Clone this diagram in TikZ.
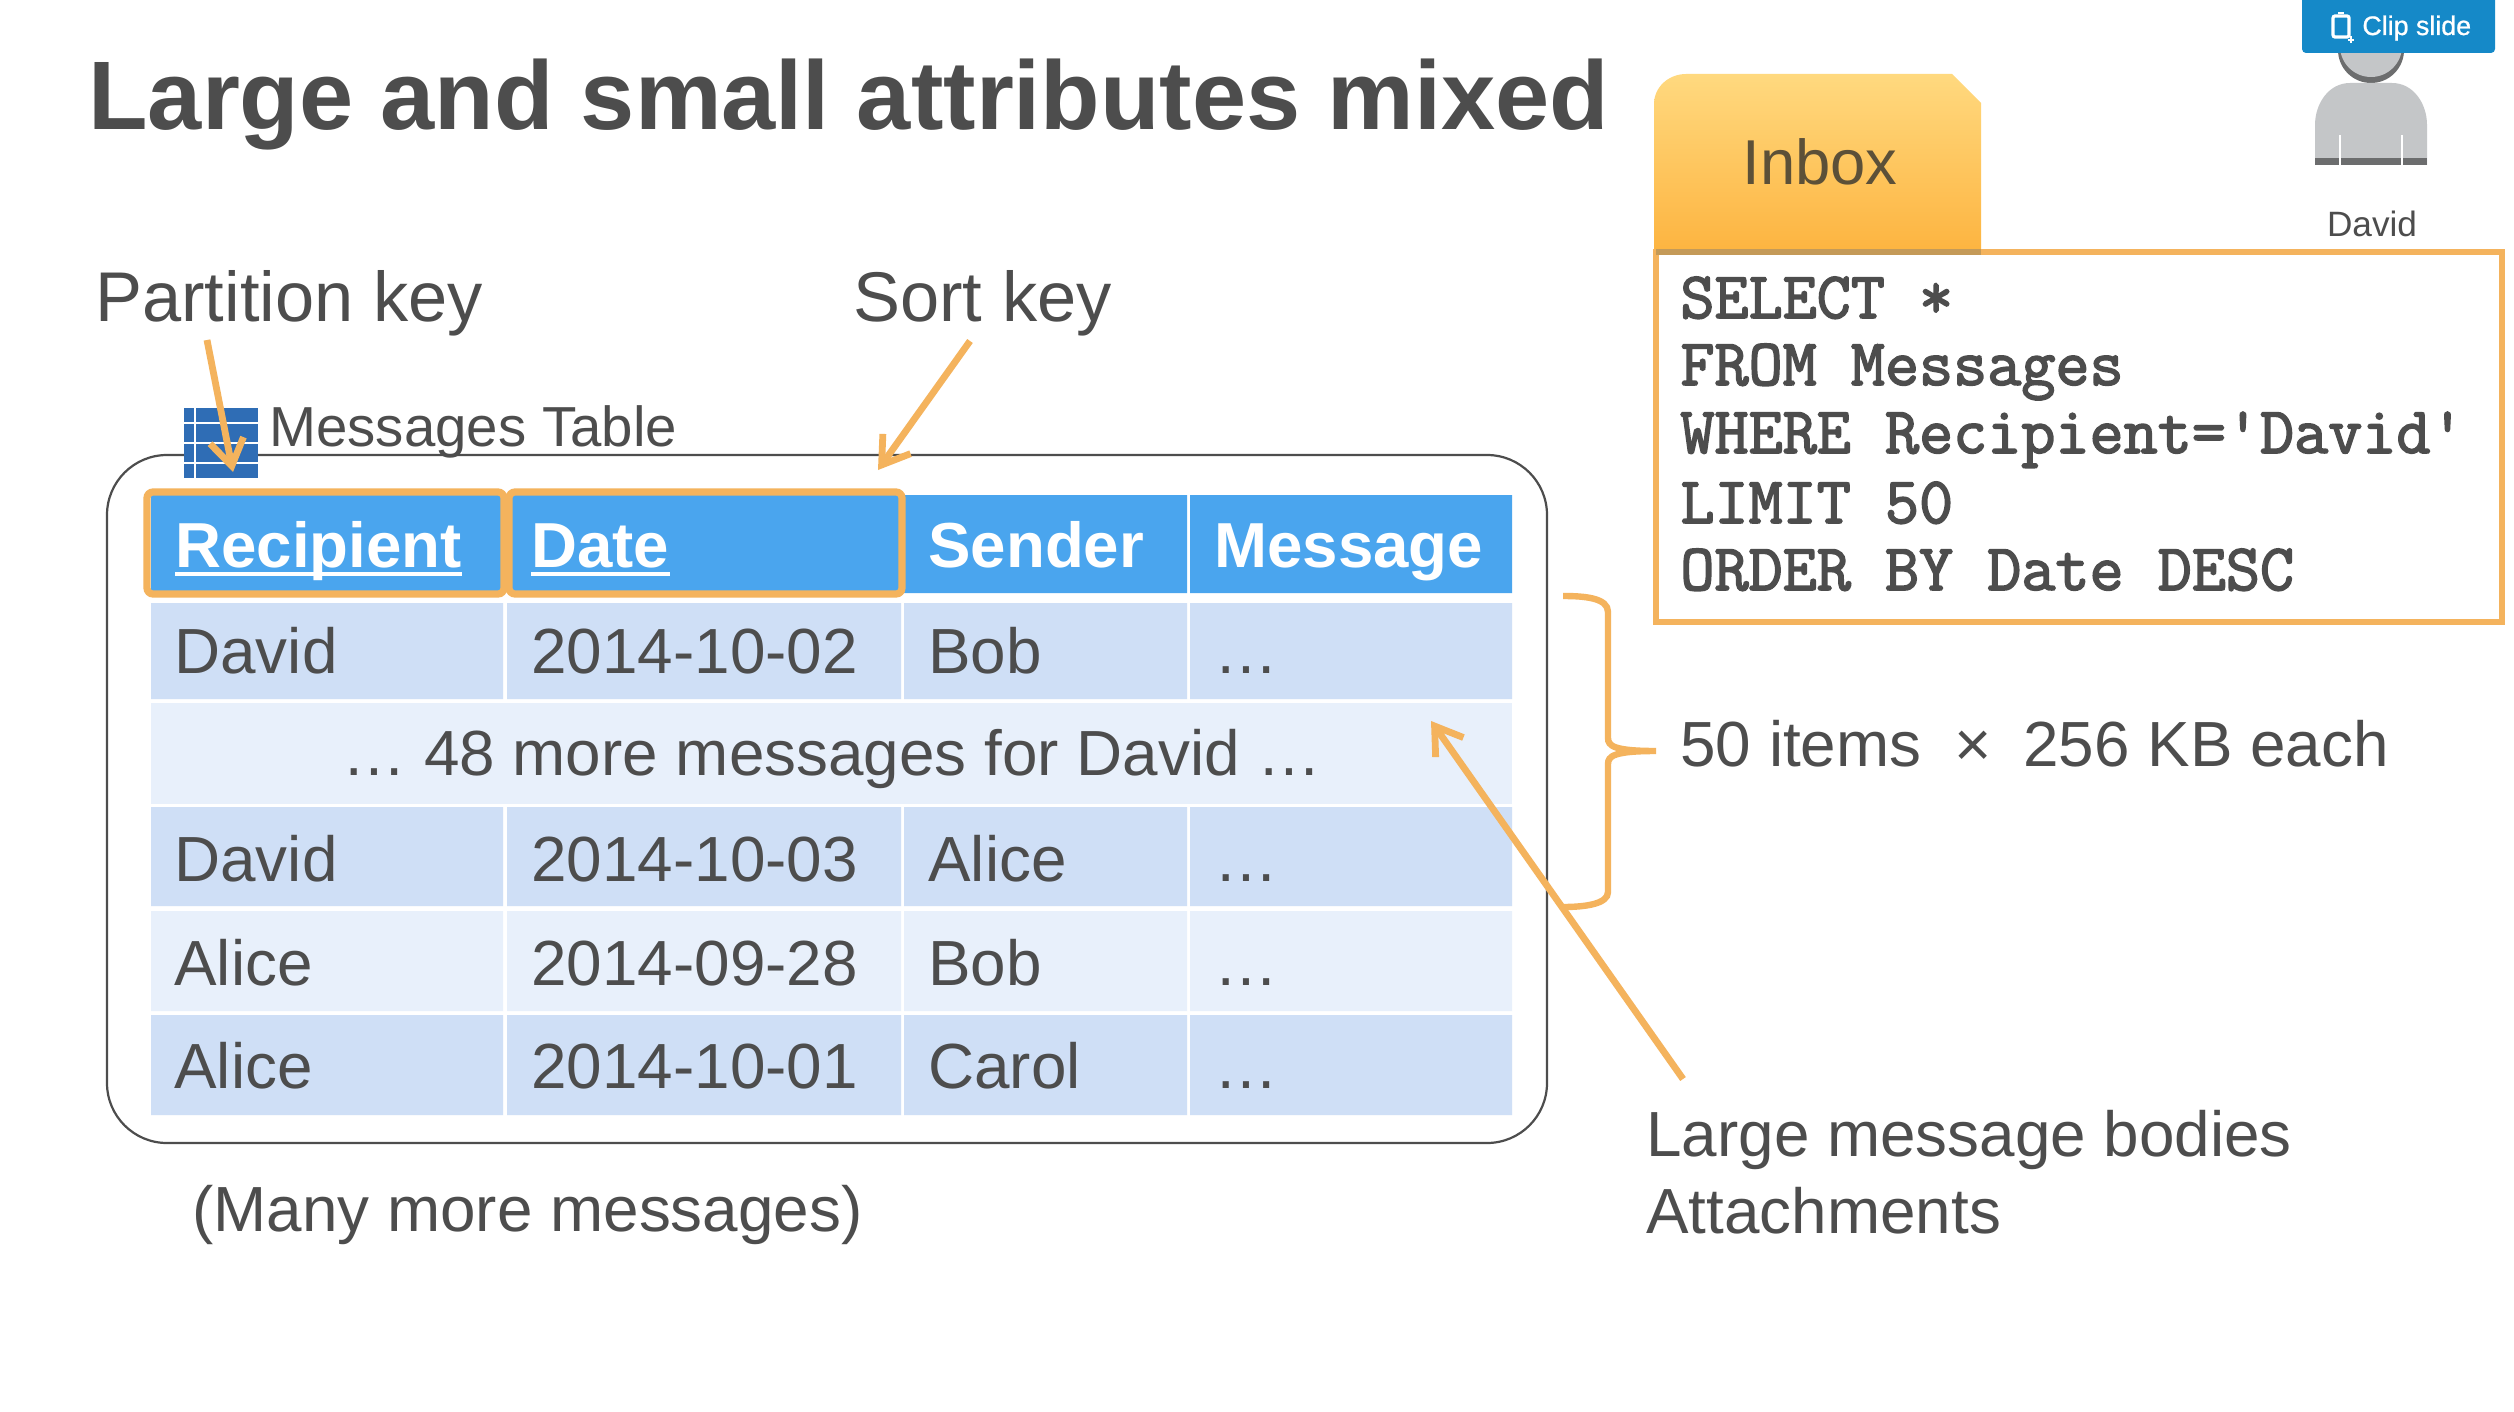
\documentclass[tikz,border=0pt]{standalone}
\usepackage{fontspec}
\setmainfont{Liberation Sans}
\newfontfamily\sqlf[FakeBold=2.4]{Latin Modern Mono}
\newfontfamily\clipf[FakeBold=0.8]{Liberation Sans}
\usetikzlibrary{arrows.meta}
\definecolor{ink}{HTML}{4D4D4D}
\definecolor{org}{HTML}{F4B35D}
\definecolor{headblue}{HTML}{4AA5EE}
\definecolor{rowa}{HTML}{CFDFF6}
\definecolor{rowb}{HTML}{E8F0FB}
\definecolor{iconblue}{HTML}{2F6DB5}
\definecolor{btn}{HTML}{1589C8}
\definecolor{persong}{HTML}{C4C6C8}
\definecolor{tabtop}{HTML}{FFD97F}
\definecolor{tabbot}{HTML}{FDB440}
\definecolor{tabink}{HTML}{5C5038}
\definecolor{tabline}{HTML}{C49A58}
\newcommand{\fsz}[1]{\fontsize{#1}{#1}\selectfont}
\tikzset{
  txt/.style={anchor=base west,inner sep=0,text=ink},
  cell/.style={txt,font=\fsz{31.9}},
  head/.style={txt,text=white,font=\fsz{31.8}\bfseries},
  label/.style={txt,font=\fsz{35.2}},
  sql/.style={txt,font=\fsz{33.1}\sqlf},
  callout/.style={draw=org,line width=3.4pt,-{Straight Barb[length=13pt,width=17pt,line width=3.4pt]}},
  keybox/.style={draw=org,line width=3.6pt,rounded corners=3pt},
  uline/.style={draw=white,line width=2pt}
}
\begin{document}
\begin{tikzpicture}[x=.5pt,y=-.5pt]
\useasboundingbox[fill=white] (0,0) rectangle (2514,1412);
% title
\node[txt,font=\fsz{48.7}\bfseries] (title) at (88,130) {Large and small attributes mixed};
\node[label] (pk) at (95,321) {Partition key};
\node[label] (sk) at (853,321) {Sort key};
% outer table frame
\draw[draw=ink,line width=1.1pt,rounded corners=30pt] (107,455) rectangle (1547,1143);
% table icon
\fill[iconblue] (184,408) rectangle (258,478);
\draw[white,line width=1pt] (195,408) -- (195,478) (184,423) -- (258,423) (184,443) -- (258,443) (184,463) -- (258,463);
\node[txt,font=\fsz{28.2}] (mt) at (269,446) {Messages Table};
% table cells
\fill[headblue] (151,495) rectangle (503,593) (507,495) rectangle (901,593) (904,495) rectangle (1187,593) (1190,495) rectangle (1512,593);
\fill[rowa] (151,603) rectangle (503,699) (507,603) rectangle (901,699) (904,603) rectangle (1187,699) (1190,603) rectangle (1512,699);
\fill[rowb] (151,703) rectangle (1512,804);
\fill[rowa] (151,807) rectangle (503,906) (507,807) rectangle (901,906) (904,807) rectangle (1187,906) (1190,807) rectangle (1512,906);
\fill[rowb] (151,911) rectangle (503,1011) (507,911) rectangle (901,1011) (904,911) rectangle (1187,1011) (1190,911) rectangle (1512,1011);
\fill[rowa] (151,1015) rectangle (503,1115) (507,1015) rectangle (901,1115) (904,1015) rectangle (1187,1115) (1190,1015) rectangle (1512,1115);
\draw[keybox] (147,492) rectangle (504,594);
\draw[keybox] (509,492) rectangle (902,594);
% header
\node[head] (hr) at (175,567) {Recipient};
\node[head] (hd) at (531,567) {Date};
\node[head] (hs) at (928,567) {Sender};
\node[head] (hm) at (1214,567) {Message};
\draw[uline] ([yshift=-3.5pt]hr.base west) -- ([yshift=-3.5pt]hr.base east);
\draw[uline] ([yshift=-3.5pt]hd.base west) -- ([yshift=-3.5pt]hd.base east);
% rows
\node[cell] (a1) at (174,673) {David};
\node[cell] (b1) at (531,673) {2014-10-02};
\node[cell] (c1) at (928,673) {Bob};
\node[cell] (d1) at (1214,673) {…};
\node[cell,anchor=base] (more) at (832,775) {… 48 more messages for David …};
\node[cell] (a3) at (174,881) {David};
\node[cell] (b3) at (531,881) {2014-10-03};
\node[cell] (c3) at (928,881) {Alice};
\node[cell] (d3) at (1214,881) {…};
\node[cell] (a4) at (174,985) {Alice};
\node[cell] (b4) at (531,985) {2014-09-28};
\node[cell] (c4) at (928,985) {Bob};
\node[cell] (d4) at (1214,985) {…};
\node[cell] (a5) at (174,1088) {Alice};
\node[cell] (b5) at (531,1088) {2014-10-01};
\node[cell] (c5) at (928,1088) {Carol};
\node[cell] (d5) at (1214,1088) {…};
\node[cell] (many) at (192,1231) {(Many more messages)};
% right labels
\node[cell] (items) at (1680,766) {50 items \hspace{7.7pt}×\hspace{6.9pt} 256 KB each};
\node[cell] (bodies) at (1646,1156) {Large message bodies};
\node[cell] (attach) at (1646,1233) {Attachments};
% inbox tab
\shade[top color=tabtop,bottom color=tabbot,draw=none]
  (1654,252) -- (1654,104) to[out=90,in=180] (1686,74) -- (1952,74) -- (1981,103) -- (1981,252) -- cycle;
\node[txt,anchor=base,text=tabink,font=\fsz{31.7}] (inbox) at (1820,185) {Inbox};
% sql box
\draw[org,line width=3pt] (1656,252) rectangle (2502,622);
\fill[tabline] (1656,249) rectangle (1981,255);
\node[sql] (s1) at (1680,318) {SELECT *};
\node[sql] (s2) at (1680,385) {FROM Messages};
\node[sql] (s3) at (1680,453) {WHERE Recipient='David'};
\node[sql] (s4) at (1680,523) {LIMIT 50};
\node[sql] (s5) at (1680,590) {ORDER BY Date DESC};
% person
\fill[black!45!persong] (2371,50) circle (33);
\fill[persong] (2371,46) circle (31);
\fill[persong] (2315,165) -- (2315,125) to[out=90,in=180] (2350,83) -- (2392,83) to[out=0,in=90] (2427,125) -- (2427,165) -- cycle;
\fill[black!45!persong] (2315,158) rectangle (2427,165);
\draw[white,line width=.7pt] (2340,135) -- (2340,165) (2402,135) -- (2402,165);
\node[txt,anchor=base,font=\fsz{17.6}] (david) at (2372,236) {David};
% clip button
\fill[btn,rounded corners=2pt] (2302,-6) rectangle (2495,53);
\draw[white,line width=1.6pt,rounded corners=1pt] (2333,16) rectangle (2349,37);
\draw[white,line width=1.4pt] (2338,13) -- (2344,13) (2348,40) -- (2354,40) (2351,36) -- (2351,43);
\node[txt,text=white,font=\fsz{13.4}\clipf] (clip) at (2362,35) {Clip slide};
% brace
\coordinate (brtop) at (1563,596);
\coordinate (brbot) at (1563,907);
\coordinate (brtip) at (1656,751);
\draw[org,line width=3.2pt] (brtop) .. controls (1585,596) and (1608,598) .. (1608,612) -- (1608,738)
  .. controls (1608,746) and (1614,751) .. (brtip)
  .. controls (1614,751) and (1608,756) .. (1608,764) -- (1608,892)
  .. controls (1608,904) and (1585,907) .. (brbot);
% callouts
\coordinate (p1) at (207,340);
\coordinate (p2) at (233,472);
\coordinate (q1) at (970,341);
\coordinate (q2) at (878,470);
\coordinate (r1) at (1683,1079);
\coordinate (r2) at (1431,721);
\draw[callout] (p1) -- (p2);
\draw[callout] (q1) -- (q2);
\draw[callout] (r1) -- (r2);
\end{tikzpicture}
\end{document}
